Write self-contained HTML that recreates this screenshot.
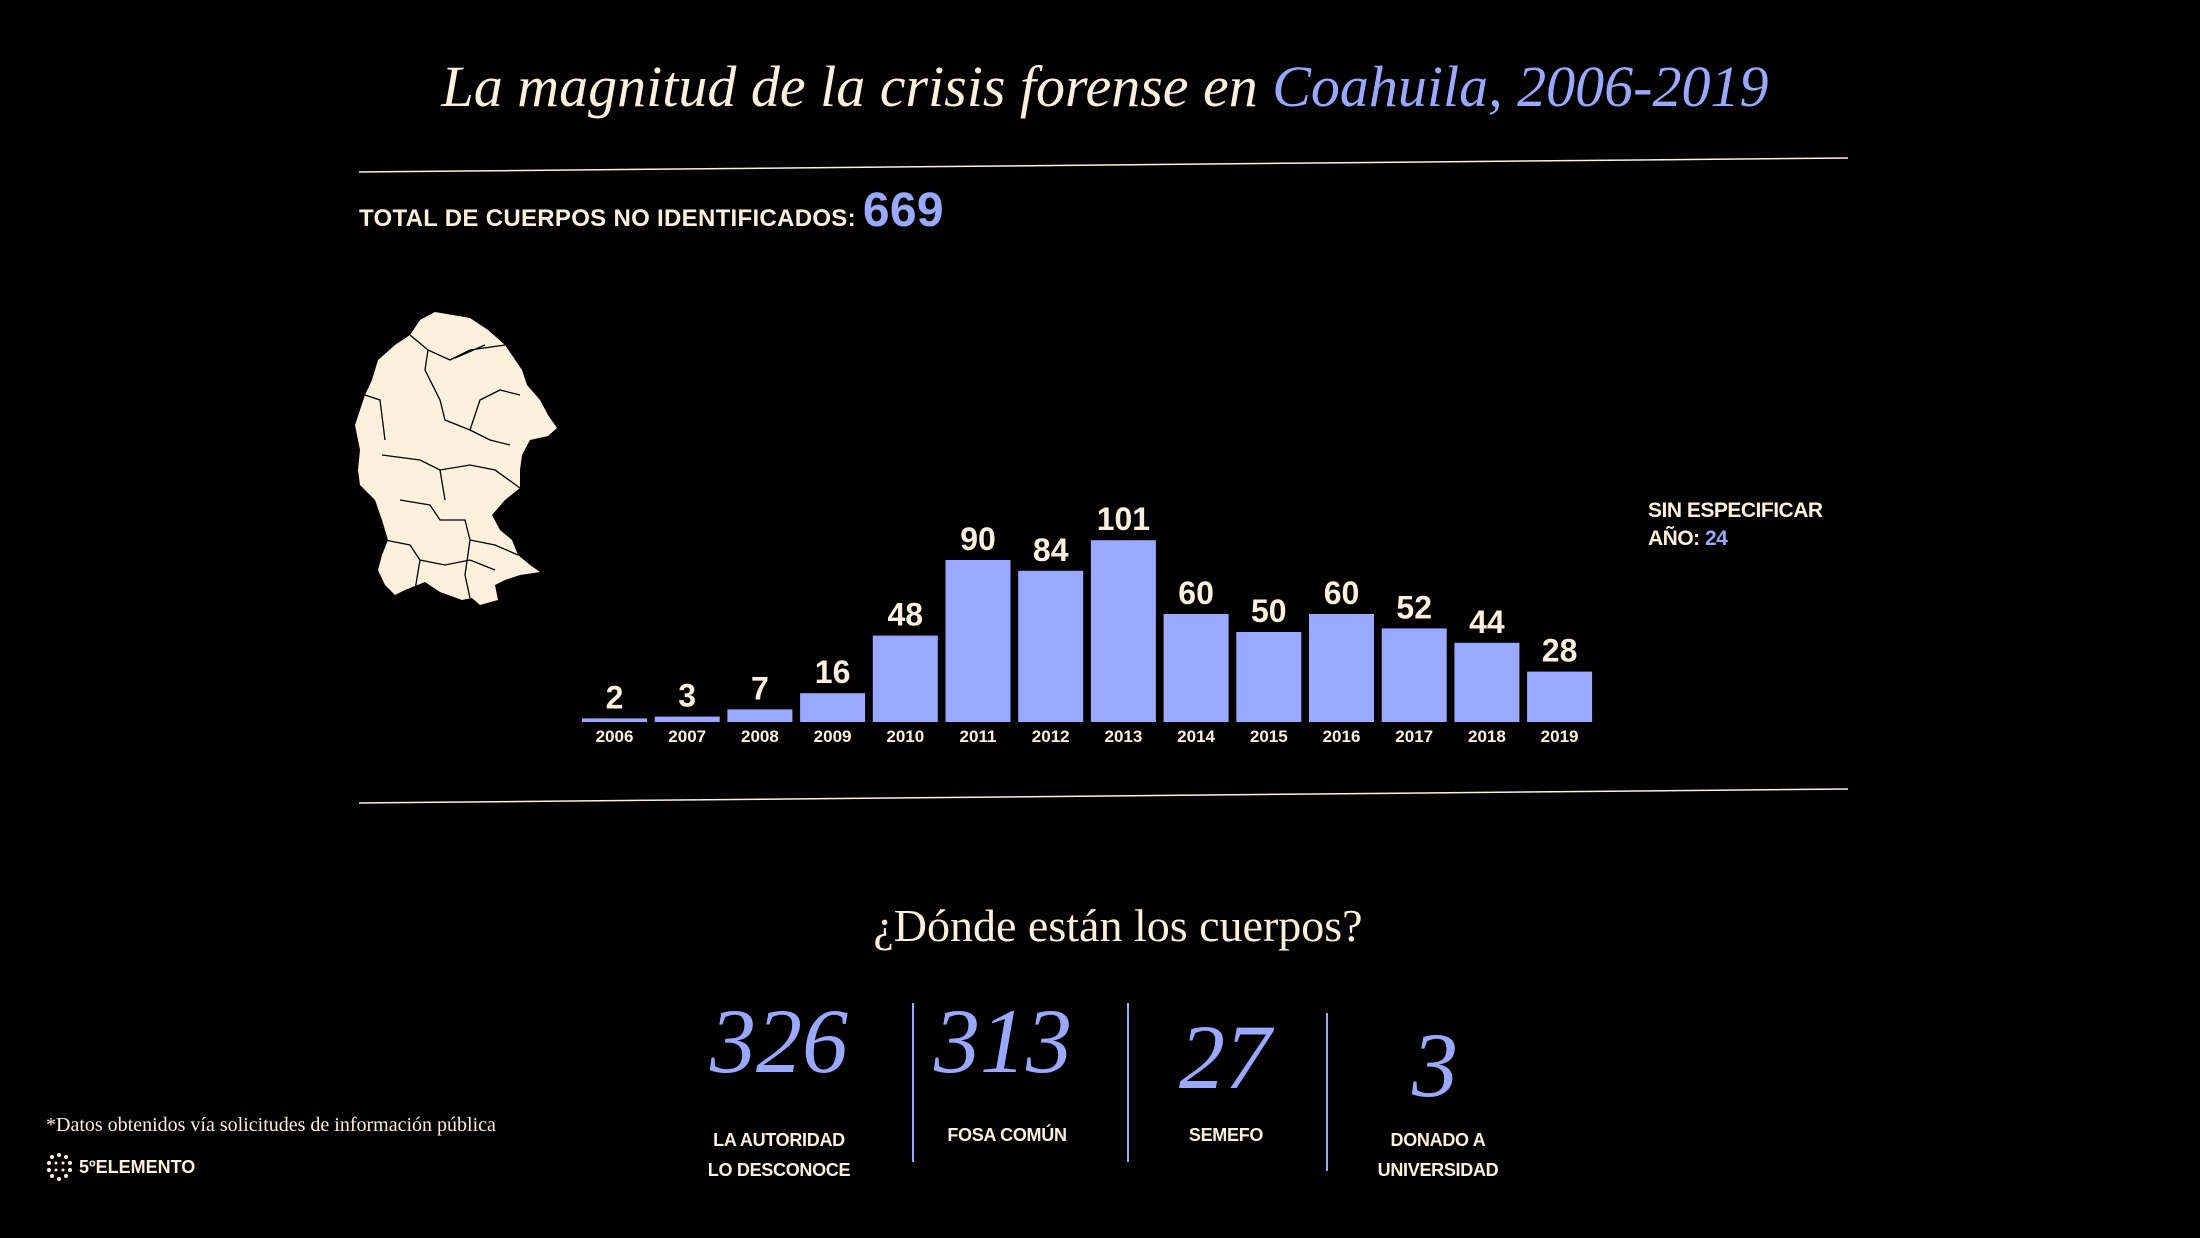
<!DOCTYPE html>
<html><head><meta charset="utf-8"><style>
html,body{margin:0;padding:0;background:#000;}
svg{display:block}
.serif{font-family:"Liberation Serif",serif}
.sans{font-family:"Liberation Sans",sans-serif}
</style></head><body>
<svg id="chart" width="2200" height="1238" viewBox="0 0 2200 1238">
<rect width="2200" height="1238" fill="#000"/>
<text x="1105" y="106" text-anchor="middle" class="serif" font-style="italic" font-size="58" fill="#fdf0dc">La magnitud de la crisis forense en <tspan fill="#9aa8ff">Coahuila, 2006-2019</tspan></text>
<line x1="359" y1="172" x2="1848" y2="158" stroke="#fdf0dc" stroke-width="1.5"/>
<line x1="359" y1="803" x2="1848" y2="789" stroke="#fdf0dc" stroke-width="1.5"/>
<text x="359" y="226" class="sans" font-weight="bold" font-size="24" fill="#fdf0dc" letter-spacing="0.3">TOTAL DE CUERPOS NO IDENTIFICADOS: <tspan font-size="48" fill="#9aa8ff">669</tspan></text>
<g>
<path fill="#fdf0dc" stroke="none" d="M435 312 L470 318 L488 330 L505 345 L522 370 L527 385 L540 400 L548 415 L557 428 L548 436 L530 440 L522 455 L520 470 L520 488 L505 500 L492 515 L500 530 L512 540 L518 555 L530 565 L540 572 L520 575 L505 580 L495 585 L498 600 L480 605 L472 598 L462 600 L440 592 L425 582 L405 590 L395 595 L385 585 L378 570 L382 555 L388 540 L382 520 L375 500 L360 485 L358 470 L360 450 L355 425 L365 395 L372 380 L378 360 L395 345 L410 335 L420 320 Z"/>
<path fill="none" stroke="#000" stroke-width="1.3" d="M410 335 L428 350 L450 360 L470 350 L505 345 M428 350 L425 370 L440 400 L445 420 L470 430 L490 440 L510 445 M455 358 L485 345 M470 430 L480 400 L500 390 L520 395 M382 455 L420 460 L440 470 L470 465 L495 470 L520 488 M400 500 L430 505 L440 520 L465 520 L470 540 L495 545 L518 555 M385 540 L410 545 L420 560 L445 565 L470 560 L495 570 M440 470 L445 500 M470 540 L465 575 L470 598 M420 560 L415 590 M365 395 L380 400 L385 440"/>
</g>
<g id="bars"></g>
<text x="1648" y="517" class="sans" font-weight="bold" font-size="21" fill="#fdf0dc" letter-spacing="-0.5">SIN ESPECIFICAR</text>
<text x="1648" y="545" class="sans" font-weight="bold" font-size="21" fill="#fdf0dc" letter-spacing="-0.5">AÑO: <tspan fill="#9aa8ff">24</tspan></text>
<text x="1118" y="941" text-anchor="middle" class="serif" font-size="46" fill="#fdf0dc">¿Dónde están los cuerpos?</text>
<g class="serif" font-style="italic" font-size="92" fill="#9aa8ff" text-anchor="middle">
<text x="779" y="1072">326</text>
<text x="1003" y="1072">313</text>
<text x="1225" y="1088">27</text>
<text x="1435" y="1096">3</text>
</g>
<g class="sans" font-weight="bold" font-size="18" fill="#fdf0dc" text-anchor="middle" letter-spacing="-0.3">
<text x="779" y="1146">LA AUTORIDAD</text>
<text x="779" y="1176">LO DESCONOCE</text>
<text x="1007" y="1141">FOSA COMÚN</text>
<text x="1226" y="1141">SEMEFO</text>
<text x="1438" y="1146">DONADO A</text>
<text x="1438" y="1176">UNIVERSIDAD</text>
</g>
<line x1="913" y1="1003" x2="913" y2="1162" stroke="#9aa8ff" stroke-width="2"/>
<line x1="1128" y1="1003" x2="1128" y2="1162" stroke="#9aa8ff" stroke-width="2"/>
<line x1="1327" y1="1013" x2="1327" y2="1171" stroke="#9aa8ff" stroke-width="2"/>
<text x="46" y="1131" class="serif" font-size="20" fill="#fdf0dc">*Datos obtenidos vía solicitudes de información pública</text>
<g fill="#fdf0dc">
<circle cx="59" cy="1155" r="2"/><circle cx="66" cy="1157" r="2"/><circle cx="52" cy="1157" r="2"/><circle cx="49" cy="1163" r="2"/><circle cx="70" cy="1163" r="2"/><circle cx="49" cy="1170" r="2"/><circle cx="70" cy="1170" r="2"/><circle cx="52" cy="1176" r="2"/><circle cx="66" cy="1176" r="2"/><circle cx="59" cy="1179" r="2"/><circle cx="56" cy="1163" r="1.5"/><circle cx="63" cy="1163" r="1.5"/><circle cx="56" cy="1170" r="1.5"/><circle cx="63" cy="1170" r="1.5"/>
</g>
<text x="79" y="1173" class="sans" font-weight="bold" font-size="18" fill="#fdf0dc">5ºELEMENTO</text>
</svg>
<script>
const years = ["2006","2007","2008","2009","2010","2011","2012","2013","2014","2015","2016","2017","2018","2019"];
const counts = [2,3,7,16,48,90,84,101,60,50,60,52,44,28];
const x0 = 582, pitch = 72.7, bw = 65, base = 722, scale = 1.8;
const xPos = i => x0 + i * pitch;
const yPos = v => base - v * scale;
const g = document.getElementById('bars');
const NS = 'http://www.w3.org/2000/svg';
years.forEach((yr, i) => {
  const v = counts[i];
  const r = document.createElementNS(NS, 'rect');
  r.setAttribute('x', xPos(i)); r.setAttribute('y', yPos(v));
  r.setAttribute('width', bw); r.setAttribute('height', base - yPos(v));
  r.setAttribute('fill', '#9aa8ff');
  
  
  g.appendChild(r);
  const t = document.createElementNS(NS, 'text');
  t.setAttribute('x', xPos(i) + bw / 2); t.setAttribute('y', yPos(v) - 10);
  t.setAttribute('text-anchor', 'middle'); t.setAttribute('font-family', 'Liberation Sans, sans-serif');
  t.setAttribute('font-weight', 'bold'); t.setAttribute('font-size', '32'); t.setAttribute('fill', '#fdf0dc');
  t.textContent = v;
  
  
  g.appendChild(t);
  const l = document.createElementNS(NS, 'text');
  l.setAttribute('x', xPos(i) + bw / 2); l.setAttribute('y', base + 20);
  l.setAttribute('text-anchor', 'middle'); l.setAttribute('font-family', 'Liberation Sans, sans-serif');
  l.setAttribute('font-weight', 'bold'); l.setAttribute('font-size', '17'); l.setAttribute('fill', '#fdf0dc');
  l.textContent = yr;
  
  
  g.appendChild(l);
});
</script>
</body></html>
